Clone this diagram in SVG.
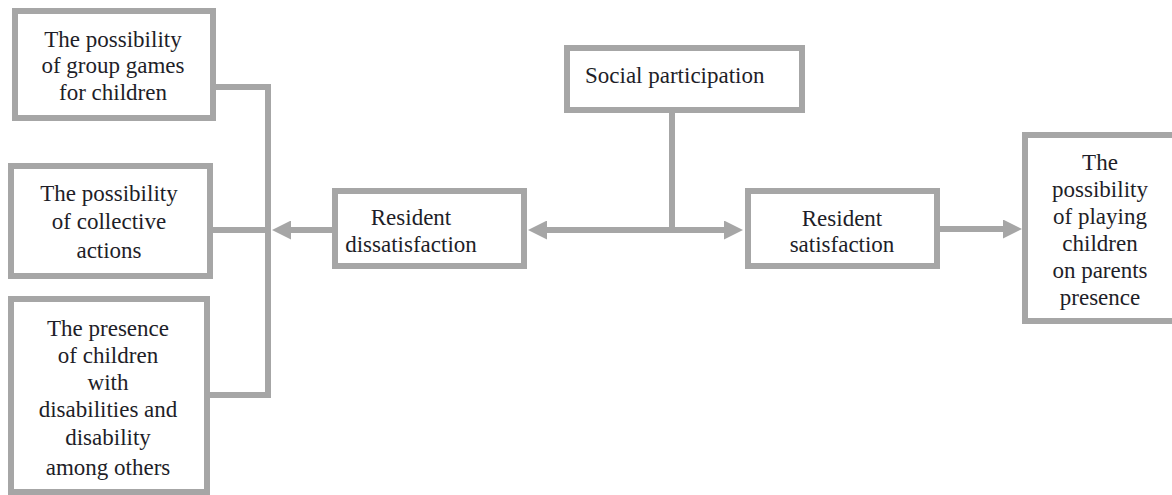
<svg xmlns="http://www.w3.org/2000/svg" width="1172" height="495" viewBox="0 0 1172 495">
<style>
.box{fill:#fff;stroke:#a6a6a6;stroke-width:6}
.c{text-anchor:middle}
.ln{fill:none;stroke:#a6a6a6;stroke-width:6;stroke-linejoin:miter}
</style>
<defs>
<marker id="ah" markerUnits="userSpaceOnUse" markerWidth="19" markerHeight="19" refX="9" refY="9.5" orient="auto-start-reverse">
<path d="M0,0 L19,9.5 L0,19 z" fill="#a6a6a6"/>
</marker>
</defs>
<g id="connectors">
<path class="ln" d="M216,87 H268 V395 H210"/>
<path class="ln" d="M213,230 H268"/>
<path class="ln" d="M332,230 H282" marker-end="url(#ah)"/>
<path class="ln" d="M538,230 H733" marker-start="url(#ah)" marker-end="url(#ah)"/>
<path class="ln" d="M672,113 V228"/>
<path class="ln" d="M940,229 H1012" marker-end="url(#ah)"/>
</g>
<g font-family="Liberation Serif, Times New Roman, serif" font-size="23" fill="#1e1e28">
<g id="n1">
<rect class="box" x="15" y="11" width="198" height="107"/>
<text class="c" x="113" y="47">The possibility</text>
<text class="c" x="113" y="73">of group games</text>
<text class="c" x="113" y="100">for children</text>
</g>
<g id="n2">
<rect class="box" x="11" y="166" width="199" height="110"/>
<text class="c" x="109" y="201">The possibility</text>
<text class="c" x="109" y="229">of collective</text>
<text class="c" x="109" y="258">actions</text>
</g>
<g id="n3">
<rect class="box" x="11" y="299" width="196" height="193"/>
<text class="c" x="108" y="336">The presence</text>
<text class="c" x="108" y="363">of children</text>
<text class="c" x="108" y="390">with</text>
<text class="c" x="108" y="417">disabilities  and</text>
<text class="c" x="108" y="445">disability</text>
<text class="c" x="108" y="475">among others</text>
</g>
<g id="n4">
<rect class="box" x="335" y="191" width="189" height="75"/>
<text class="c" x="411" y="225">Resident</text>
<text class="c" x="411" y="252">dissatisfaction</text>
</g>
<g id="n5">
<rect class="box" x="567" y="48" width="235" height="62"/>
<text x="585" y="83">Social participation</text>
</g>
<g id="n6">
<rect class="box" x="748" y="191" width="189" height="75"/>
<text class="c" x="842" y="226">Resident</text>
<text class="c" x="842" y="252">satisfaction</text>
</g>
<g id="n7">
<rect class="box" x="1025" y="135" width="200" height="186"/>
<text class="c" x="1100" y="170">The</text>
<text class="c" x="1100" y="197">possibility</text>
<text class="c" x="1100" y="224">of playing</text>
<text class="c" x="1100" y="251">children</text>
<text class="c" x="1100" y="278">on parents</text>
<text class="c" x="1100" y="305">presence</text>
</g>
</g>
</svg>
